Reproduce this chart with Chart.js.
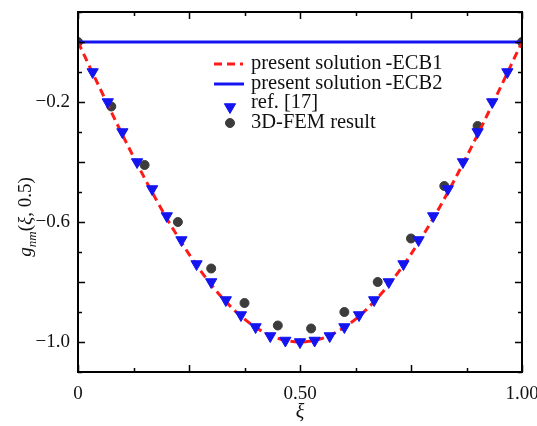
<!DOCTYPE html>
<html>
<head>
<meta charset="utf-8">
<script src="https://cdn.jsdelivr.net/npm/chart.js@4/dist/chart.umd.min.js"></script>
<style>
  html, body { margin: 0; padding: 0; background: #fff; }
  #wrap { width: 537px; height: 426px; position: relative; }
</style>
</head>
<body>
<div id="wrap"><canvas id="gChart" width="537" height="426"></canvas></div>
<script>
// data
const ecb1Xi = [0, 0.05, 0.10, 0.15, 0.20, 0.25, 0.30, 0.35, 0.40, 0.45, 0.50,
                0.55, 0.60, 0.65, 0.70, 0.75, 0.80, 0.85, 0.90, 0.95, 1.00];
const ecb1Vals = [0, -0.156, -0.309, -0.454, -0.588, -0.707, -0.809, -0.891, -0.951, -0.988, -1.0,
                  -0.988, -0.951, -0.891, -0.809, -0.707, -0.588, -0.454, -0.309, -0.156, 0];
const ecb2Xi = [0, 1];
const ecb2Vals = [0, 0];
const refXi = [0.033, 0.067, 0.100, 0.133, 0.167, 0.200, 0.233, 0.267, 0.300, 0.333,
               0.367, 0.400, 0.433, 0.467, 0.500, 0.533, 0.567, 0.600, 0.633, 0.667,
               0.700, 0.733, 0.767, 0.800, 0.833, 0.867, 0.900, 0.933, 0.967];
const refVals = [-0.10, -0.20, -0.30, -0.40, -0.49, -0.58, -0.66, -0.74, -0.80, -0.86,
                 -0.91, -0.95, -0.98, -0.995, -1.00, -0.995, -0.98, -0.95, -0.91, -0.86,
                 -0.80, -0.74, -0.66, -0.58, -0.49, -0.40, -0.30, -0.20, -0.10];
const femXi = [0, 0.075, 0.15, 0.225, 0.30, 0.375, 0.45, 0.525, 0.60, 0.675, 0.75, 0.825, 0.90, 1.0];
const femVals = [0, -0.215, -0.41, -0.60, -0.755, -0.87, -0.945, -0.955, -0.90, -0.80, -0.655, -0.48, -0.28, 0];

const xTickVals = [0, 0.125, 0.25, 0.375, 0.5, 0.625, 0.75, 0.875, 1.0];
const xLabelVals = [0, 0.5, 1.0];
const xLabels = ['0', '0.50', '1.00'];
const yTickVals = [0.1, 0, -0.1, -0.2, -0.3, -0.4, -0.5, -0.6, -0.7, -0.8, -0.9, -1.0, -1.1];
const yLabelVals = [-0.2, -0.6, -1.0];
const yLabels = ['\u22120.2', '\u22120.6', '\u22121.0'];
const legendLabels = ['present solution\u2009-ECB1', 'present solution\u2009-ECB2', 'ref. [17]', '3D-FEM result'];

const SERIF = '"Liberation Serif", "Times New Roman", serif';
const near = (a, b) => Math.abs(a - b) < 1e-6;
const pts = (xs, ys) => xs.map((x, i) => ({ x, y: ys[i] }));

// frame + inward ticks on all four sides, axis titles
const framePlugin = {
  id: 'frame',
  afterDatasetsDraw(chart) {
    const { ctx, chartArea: a, scales } = chart;
    ctx.save();
    ctx.strokeStyle = '#000';
    ctx.lineWidth = 2;
    ctx.strokeRect(a.left, a.top, a.right - a.left, a.bottom - a.top);
    ctx.lineWidth = 1.5;
    ctx.beginPath();
    xTickVals.forEach(v => {
      const px = Math.round(scales.x.getPixelForValue(v)) + 0.5;
      const len = near(v % 0.25, 0) ? 7 : 4;
      ctx.moveTo(px, a.bottom); ctx.lineTo(px, a.bottom - len);
      ctx.moveTo(px, a.top); ctx.lineTo(px, a.top + len);
    });
    yTickVals.forEach(v => {
      const py = Math.round(scales.y.getPixelForValue(v)) + 0.5;
      const len = near(Math.abs(v * 10) % 2, 0) ? 7 : 4;
      ctx.moveTo(a.left, py); ctx.lineTo(a.left + len, py);
      ctx.moveTo(a.right, py); ctx.lineTo(a.right - len, py);
    });
    ctx.stroke();
    ctx.restore();
  },
  afterDraw(chart) {
    const { ctx, chartArea: a } = chart;
    ctx.save();
    ctx.fillStyle = '#111';
    // x title
    ctx.font = 'italic 20px ' + SERIF;
    ctx.textAlign = 'center';
    ctx.textBaseline = 'middle';
    ctx.fillText('\u03be', (a.left + a.right) / 2, 413);
    // y title, rotated
    ctx.translate(25, 217);
    ctx.rotate(-Math.PI / 2);
    ctx.textBaseline = 'alphabetic';
    const parts = [
      { t: 'g', f: 'italic 19px ' + SERIF, dy: 0 },
      { t: 'nm', f: 'italic 13px ' + SERIF, dy: 5 },
      { t: '(', f: '19px ' + SERIF, dy: 0 },
      { t: '\u03be', f: 'italic 19px ' + SERIF, dy: 0 },
      { t: ', 0.5)', f: '19px ' + SERIF, dy: 0 }
    ];
    let total = 0;
    parts.forEach(p => { ctx.font = p.f; p.w = ctx.measureText(p.t).width; total += p.w; });
    let x = -total / 2;
    ctx.textAlign = 'left';
    parts.forEach(p => { ctx.font = p.f; ctx.fillText(p.t, x, 6 + p.dy); x += p.w; });
    ctx.restore();
  }
};

// legend inside the plot
const legendPlugin = {
  id: 'innerLegend',
  afterDraw(chart) {
    const { ctx } = chart;
    const rows = [64, 84, 103, 123];
    ctx.save();
    ctx.lineWidth = 3;
    ctx.strokeStyle = '#ff1a1a';
    ctx.setLineDash([8, 5]);
    ctx.beginPath(); ctx.moveTo(214, rows[0]); ctx.lineTo(243, rows[0]); ctx.stroke();
    ctx.setLineDash([]);
    ctx.strokeStyle = '#1414f0';
    ctx.beginPath(); ctx.moveTo(214, rows[1]); ctx.lineTo(244, rows[1]); ctx.stroke();
    ctx.fillStyle = '#1414f0'; ctx.strokeStyle = '#1414f0'; ctx.lineWidth = 1;
    Chart.helpers.drawPoint(ctx, { pointStyle: 'triangle', radius: 6.5, rotation: 180, borderWidth: 1 }, 230, rows[2] + 4);
    ctx.fillStyle = '#3c3c3c'; ctx.strokeStyle = '#3c3c3c';
    Chart.helpers.drawPoint(ctx, { pointStyle: 'circle', radius: 4.5, rotation: 0, borderWidth: 1 }, 230, rows[3]);
    ctx.fillStyle = '#111';
    ctx.font = '20.5px ' + SERIF;
    ctx.textAlign = 'left';
    ctx.textBaseline = 'middle';
    legendLabels.forEach((t, i) => ctx.fillText(t, 251, rows[i]));
    ctx.restore();
  }
};

new Chart(document.getElementById('gChart'), {
  type: 'scatter',
  data: {
    datasets: [
      { label: 'ecb1', data: pts(ecb1Xi, ecb1Vals), showLine: true, borderColor: '#ff1a1a',
        borderWidth: 3, borderDash: [8, 5], pointRadius: 0, cubicInterpolationMode: 'monotone', order: 1 },
      { label: 'ecb2', data: pts(ecb2Xi, ecb2Vals), showLine: true, borderColor: '#1414f0',
        borderWidth: 3, pointRadius: 0, order: 1 },
      { label: 'ref', data: pts(refXi, refVals), pointStyle: 'triangle', rotation: 180, pointRadius: 6.5,
        backgroundColor: '#1414f0', borderColor: '#1414f0', borderWidth: 1, order: 0 },
      { label: 'fem', data: pts(femXi, femVals), pointStyle: 'circle', pointRadius: 4.5,
        backgroundColor: '#3c3c3c', borderColor: '#3c3c3c', borderWidth: 1, order: 2 }
    ]
  },
  options: {
    responsive: false,
    animation: false,
    layout: { padding: { left: 0, top: 12, right: 15, bottom: 0 } },
    plugins: { legend: { display: false }, tooltip: { enabled: false } },
    scales: {
      x: {
        type: 'linear', min: 0, max: 1,
        afterBuildTicks: s => { s.ticks = xTickVals.map(v => ({ value: v })); },
        afterFit: s => { s.height = 54; s.paddingLeft = 0; s.paddingRight = 0; },
        grid: { display: false, drawTicks: false }, border: { display: false },
        ticks: {
          padding: 11, maxRotation: 0, autoSkip: false, color: '#111',
          font: { family: SERIF, size: 19 },
          callback: v => { const i = xLabelVals.findIndex(t => near(t, v)); return i >= 0 ? xLabels[i] : ''; }
        }
      },
      y: {
        type: 'linear', min: -1.1, max: 0.1,
        afterBuildTicks: s => { s.ticks = yTickVals.map(v => ({ value: v })); },
        afterFit: s => { s.width = 78; s.paddingTop = 0; s.paddingBottom = 0; },
        grid: { display: false, drawTicks: false }, border: { display: false },
        ticks: {
          padding: 8, autoSkip: false, color: '#111',
          font: { family: SERIF, size: 19 },
          callback: v => { const i = yLabelVals.findIndex(t => near(t, v)); return i >= 0 ? yLabels[i] : ''; }
        }
      }
    }
  },
  plugins: [framePlugin, legendPlugin]
});
</script>
</body>
</html>
